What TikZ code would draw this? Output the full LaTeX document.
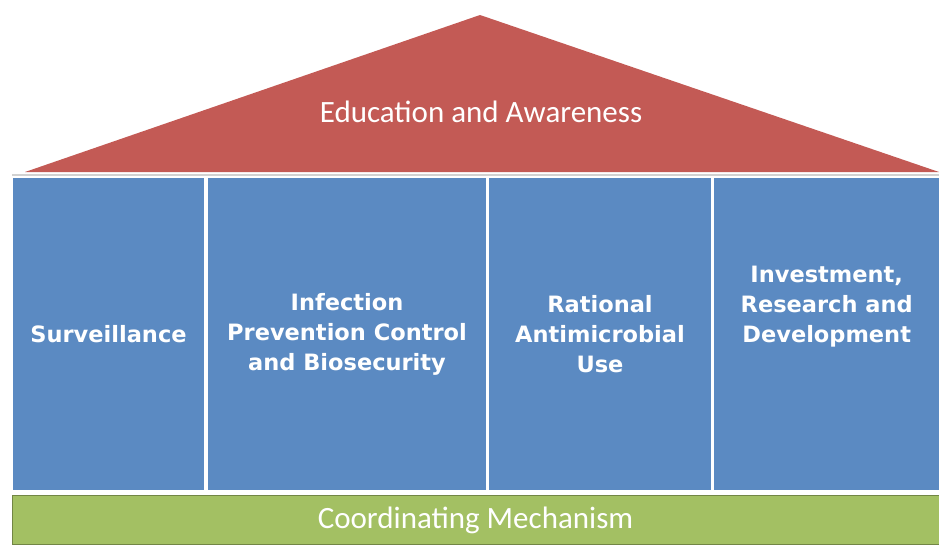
\documentclass[tikz,border=0pt]{standalone}
\usepackage{fontspec}
\setmainfont{DejaVu Sans}
\newfontfamily\roofsans{Carlito}
\definecolor{roofred}{HTML}{C35A55}
\definecolor{pillarblue}{HTML}{5B8AC2}
\definecolor{basegreen}{HTML}{A3C063}
\begin{document}
\begin{tikzpicture}[x=1pt,y=-1pt,
    pillar/.style={fill=pillarblue, inner sep=0pt, minimum height=312, align=center,
      text=white, font=\fontsize{22.5}{30}\selectfont\bfseries},
    banner/.style={text=white, inner sep=0pt, font=\roofsans\fontsize{31}{34}\selectfont}]
    \useasboundingbox (0,0) rectangle (939,544);
    % roof corners
    \coordinate (apex) at (480,15);
    \coordinate (eaveL) at (25,172);
    \coordinate (eaveR) at (939,172);
    % roof
    \fill [roofred] (eaveL) -- (apex) -- (eaveR) -- cycle;
    \node [banner] (edu) at (481,112) {Education and Awareness};
    \draw [black!18, line width=1.2] (12,175) -- (939,175);
    % pillars
    \node [pillar, minimum width=191] (surv) at (108.5,334) {Surveillance};
    \node [pillar, minimum width=278] (ipc) at (347,334) {Infection\\Prevention Control\\and Biosecurity};
    \node [pillar, minimum width=222] (ramu) at (600,334) {Rational\\Antimicrobial\\Use};
    \node [pillar, minimum width=225, anchor=west] (ird) at (714,334) {Investment,\\Research and\\Development\\[30pt]};
    % base
    \node [banner, fill=basegreen, draw=basegreen!70!black, line width=1, minimum width=927,
      minimum height=49] (coord) at (475.5,520) {Coordinating Mechanism};
\end{tikzpicture}
\end{document}
